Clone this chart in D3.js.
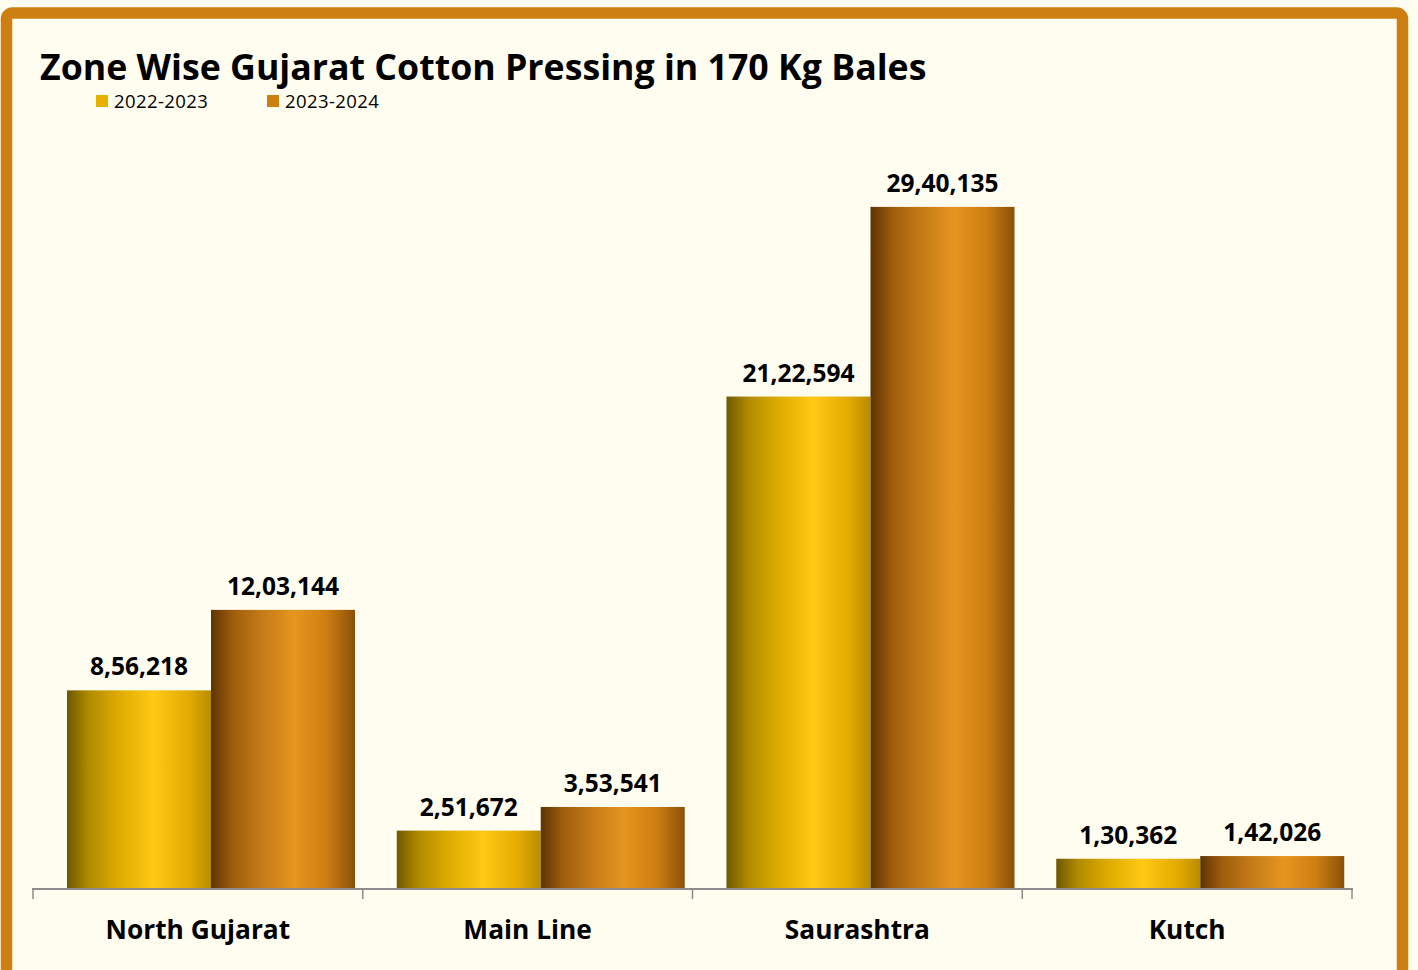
<!DOCTYPE html>
<html><head><meta charset="utf-8">
<script src="https://cdn.jsdelivr.net/npm/d3@7"></script>
<style>body{margin:0;background:#fff;}svg{display:block;font-family:"Open Sans",sans-serif;}</style>
</head><body>
<svg id="c" width="1418" height="970"></svg>
<script>
const categories = ["North Gujarat", "Main Line", "Saurashtra", "Kutch"];
const seriesNames = ["2022-2023", "2023-2024"];
const values2022 = [856218, 251672, 2122594, 130362];
const values2023 = [1203144, 353541, 2940135, 142026];
const valueLabels2022 = ["8,56,218", "2,51,672", "21,22,594", "1,30,362"];
const valueLabels2023 = ["12,03,144", "3,53,541", "29,40,135", "1,42,026"];

const svg = d3.select("#c");
const defs = svg.append("defs");
function grad(id, stops){
  const g = defs.append("linearGradient").attr("id", id).attr("x1","0").attr("x2","1").attr("y1","0").attr("y2","0");
  stops.forEach(s => g.append("stop").attr("offset", s[0]).attr("stop-color", s[1]));
}
grad("gY", [[0,"#6e5800"],[0.15,"#b08b00"],[0.35,"#dcaa00"],[0.6,"#ffc914"],[0.85,"#e3aa00"],[1,"#b88c00"]]);
grad("gO", [[0,"#5c3404"],[0.15,"#9e5c0c"],[0.35,"#c47a18"],[0.58,"#e6951f"],[0.8,"#cf7f12"],[1,"#8a5008"]]);

// background & frame
svg.append("rect").attr("x",0).attr("y",0).attr("width",1418).attr("height",970).attr("fill","#fffcf0");
svg.append("rect").attr("x",6.5).attr("y",13).attr("width",1396).attr("height",990).attr("rx",6)
  .attr("fill","#fffcf0").attr("stroke","#cd7f12").attr("stroke-width",11.5);

const x0 = d3.scaleBand().domain(categories).range([33, 1352]).paddingInner(0).paddingOuter(0);
const x1 = d3.scaleBand().domain(seriesNames).range([34, 322]).paddingInner(0).paddingOuter(0);
const y = d3.scaleLinear().domain([0, 3500000]).range([889, 77]);

const data = categories.map((c,i)=>({cat:c, vals:[
  {s:seriesNames[0], v:values2022[i], lab:valueLabels2022[i], fill:"url(#gY)"},
  {s:seriesNames[1], v:values2023[i], lab:valueLabels2023[i], fill:"url(#gO)"}]}));

const g = svg.append("g").selectAll("g").data(data).join("g").attr("transform", d=>`translate(${x0(d.cat)},0)`);
g.selectAll("rect").data(d=>d.vals).join("rect")
  .attr("x", d=>x1(d.s)).attr("width", x1.bandwidth())
  .attr("y", d=>y(d.v)).attr("height", d=>y(0)-y(d.v)).attr("fill", d=>d.fill);
g.selectAll("text").data(d=>d.vals).join("text")
  .attr("x", d=>x1(d.s)+x1.bandwidth()/2).attr("y", d=>y(d.v)-15)
  .attr("text-anchor","middle").attr("font-size",24.5).attr("font-weight","bold").attr("fill","#000")
  .text(d=>d.lab);

// axis
const ax = svg.append("g").attr("transform","translate(0,889)")
  .call(d3.axisBottom(x0).tickSize(0).tickFormat(""));
ax.select(".domain").attr("stroke","#8c8c8c").attr("stroke-width",2).attr("d","M32,0H1353");
svg.append("g").selectAll("line").data(d3.range(categories.length+1)).join("line")
  .attr("x1", i=> i<categories.length ? x0(categories[i]) : x0.range()[1])
  .attr("x2", i=> i<categories.length ? x0(categories[i]) : x0.range()[1])
  .attr("y1",889).attr("y2",899).attr("stroke","#8c8c8c").attr("stroke-width",1.5);
svg.append("g").selectAll("text").data(categories).join("text")
  .attr("x", d=>x0(d)+x0.bandwidth()/2).attr("y", 939).attr("text-anchor","middle")
  .attr("font-size",26.3).attr("font-weight","bold").attr("fill","#000").text(d=>d);

// title
svg.append("text").attr("x",40).attr("y",80).attr("font-size",35.7).attr("font-weight","bold").attr("fill","#000")
  .text("Zone Wise Gujarat Cotton Pressing in 170 Kg Bales");

// legend
const legColors = ["#e8b000","#cd7f12"];
const leg = svg.append("g").selectAll("g").data(seriesNames).join("g")
  .attr("transform",(d,i)=>`translate(${96+i*171},95)`);
leg.append("rect").attr("width",12).attr("height",12).attr("fill",(d,i)=>legColors[i]);
leg.append("text").attr("x",18).attr("y",13).attr("font-size",18.5).attr("letter-spacing",0.4).attr("fill","#000").text(d=>d);
</script>
</body></html>
